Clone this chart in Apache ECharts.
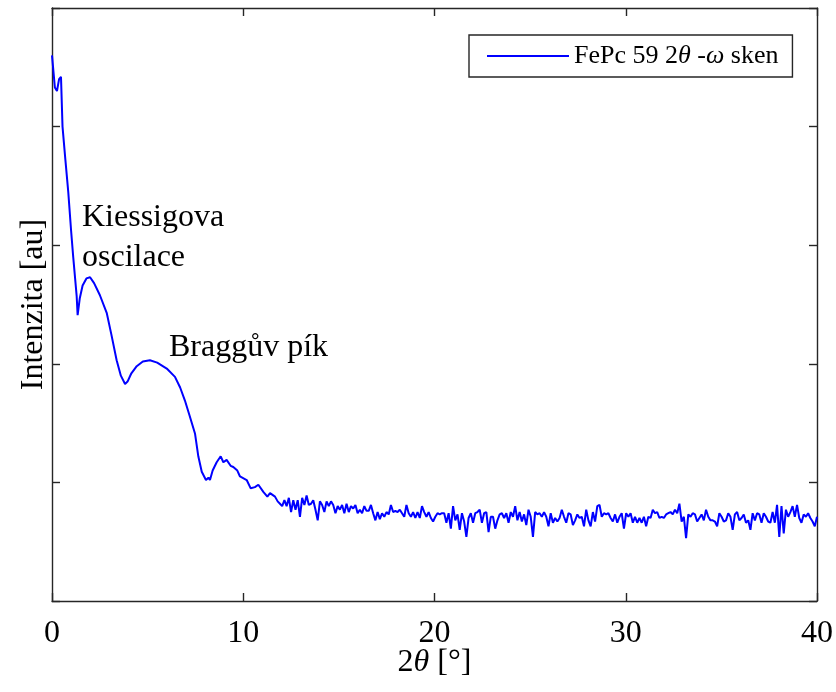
<!DOCTYPE html>
<html>
<head>
<meta charset="utf-8">
<style>html,body{margin:0;padding:0;background:#fff;}#c{width:836px;height:692px;}</style>
<script src="https://cdn.jsdelivr.net/npm/echarts@6/dist/echarts.min.js"></script>
</head>
<body>
<div id="c"></div>
<script>
// X-ray reflectivity / 2theta-omega scan (values in log-like intensity units, axis unlabelled)
const angleEarly = [0, 0.15, 0.26, 0.37, 0.47, 0.55, 0.7, 0.85, 1.0, 1.11, 1.29, 1.34, 1.45, 1.6, 1.8, 1.99, 2.2, 2.5, 2.86, 3.1, 3.38, 3.6, 3.82, 3.95, 4.15, 4.43, 4.75, 5.12, 5.5, 6.0, 6.43, 6.7, 6.95, 7.2, 7.48, 7.65, 7.83, 8.05, 8.18, 8.26, 8.40, 8.61, 8.82, 8.96, 9.13, 9.34, 9.48, 9.69, 9.83, 10.18, 10.39, 10.61, 10.79, 11.05, 11.26, 11.40, 11.66, 11.80];
const intensityEarly = [4.60, 4.33, 4.30, 4.40, 4.42, 4.00, 3.72, 3.45, 3.12, 2.90, 2.57, 2.41, 2.55, 2.66, 2.72, 2.73, 2.68, 2.58, 2.43, 2.25, 2.03, 1.90, 1.83, 1.85, 1.92, 1.98, 2.02, 2.03, 2.01, 1.96, 1.89, 1.80, 1.69, 1.56, 1.41, 1.22, 1.09, 1.02, 1.04, 1.02, 1.10, 1.17, 1.22, 1.17, 1.19, 1.14, 1.13, 1.10, 1.05, 1.02, 0.95, 0.96, 0.98, 0.92, 0.88, 0.91, 0.88, 0.84];
// noisy background, evenly sampled from noiseStart to noiseEnd
const noiseStart = 11.92;
const noiseEnd = 40;
const noiseIntensity = [
  .82,.80,.85,.80,.87,.75,.85,.77,.85,.71,.87,.81,.89,.81,.82,.85,.77,.68,.84,.81,.75,.84,.80,.84,.81,.74,.80,.77,.81,.74,.82,.75,.80,.78,.81,.74,.77,.74,.80,.76,.76,.81,.74,.68,.75,.69,.74,
  .71,.75,.73,.81,.75,.76,.75,.77,.74,.71,.81,.74,.71,.75,.70,.75,.70,.80,.75,.71,.75,.70,.67,.71,.74,.73,.74,.74,.66,.74,.61,.80,.68,.73,.60,.74,.67,.54,.70,.74,.66,.74,.75,.77,.66,.74,.75,.58,.71,
  .71,.61,.68,.73,.74,.70,.74,.66,.75,.71,.80,.68,.75,.67,.73,.64,.77,.71,.54,.75,.73,.74,.71,.75,.71,.63,.74,.66,.70,.67,.70,.77,.71,.66,.74,.73,.64,.68,.73,.70,.71,.63,.77,.68,.63,.75,.67,.80,
  .81,.71,.74,.73,.74,.70,.67,.73,.66,.71,.74,.61,.74,.71,.74,.66,.71,.66,.70,.66,.71,.63,.71,.70,.77,.74,.75,.70,.71,.70,.73,.74,.75,.73,.77,.74,.82,.67,.71,.53,.73,.71,.74,.73,.67,.70,.73,.68,.77,.71,.68,
  .68,.67,.63,.74,.71,.67,.68,.74,.71,.60,.73,.75,.68,.70,.73,.66,.68,.60,.74,.68,.74,.73,.66,.74,.71,.67,.66,.75,.66,.81,.54,.80,.57,.77,.71,.75,.80,.71,.81,.70,.66,.73,.71,.74,.70,.67,.63,.71
];
const xTicks = [0, 10, 20, 30, 40];
const seriesName = 'FePc 59 2θ -ω sken';
const annotations = ['Kiessigova', 'oscilace', 'Braggův pík'];

const data = angleEarly.map((a, i) => [a, intensityEarly[i]]);
const stepN = (noiseEnd - noiseStart) / (noiseIntensity.length - 1);
noiseIntensity.forEach((v, i) => data.push([noiseStart + i * stepN, v]));

const FONT = 'Liberation Serif';
const AX = '#262626';
const FS = 32;
const chart = echarts.init(document.getElementById('c'), null, {renderer: 'canvas'});
const axisCommon = {
  axisLine: {show: true, onZero: false, lineStyle: {color: AX, width: 1.4}},
  axisTick: {show: true, inside: true, length: 8, lineStyle: {color: AX, width: 1.4}},
  splitLine: {show: false}
};
chart.setOption({
  backgroundColor: '#fff',
  animation: false,
  grid: {left: 52, right: 19, top: 8, bottom: 91, containLabel: false},
  legend: {
    show: true, left: 469, top: 35,
    padding: [8, 14, 8, 18],
    itemWidth: 82, itemHeight: 2, icon: 'rect',
    borderColor: AX, borderWidth: 1.4, backgroundColor: '#fff',
    formatter: () => '{n|FePc 59 2}{i|θ}{n| -}{i|ω}{n| sken}',
    textStyle: {
      fontFamily: FONT, fontSize: 26, color: '#000',
      rich: {
        n: {fontFamily: FONT, fontSize: 26, color: '#000'},
        i: {fontFamily: FONT, fontSize: 26, fontStyle: 'italic', color: '#000'}
      }
    },
    data: [seriesName]
  },
  xAxis: [
    Object.assign({
      type: 'value', min: 0, max: 40, interval: 10, position: 'bottom',
      axisLabel: {show: true, margin: 17, fontFamily: FONT, fontSize: FS, color: '#000',
        formatter: v => xTicks.includes(v) ? String(v) : ''},
      name: '{n|2}{i|θ}{n| [°]}', nameLocation: 'middle', nameGap: 46, nameMoveOverlap: false,
      nameTextStyle: {fontFamily: FONT, fontSize: FS, color: '#000',
        rich: {n: {fontFamily: FONT, fontSize: FS, color: '#000'},
               i: {fontFamily: FONT, fontSize: FS, fontStyle: 'italic', color: '#000'}}}
    }, axisCommon),
    Object.assign({
      type: 'value', min: 0, max: 40, interval: 10, position: 'top',
      axisLabel: {show: false}
    }, axisCommon)
  ],
  yAxis: [
    Object.assign({
      type: 'value', min: 0, max: 5, interval: 1, position: 'left',
      axisLabel: {show: false},
      name: 'Intenzita [au]', nameLocation: 'middle', nameGap: 2, nameMoveOverlap: false,
      nameTextStyle: {fontFamily: FONT, fontSize: FS, color: '#000'}
    }, axisCommon),
    Object.assign({
      type: 'value', min: 0, max: 5, interval: 1, position: 'right',
      axisLabel: {show: false}
    }, axisCommon)
  ],
  series: [{
    name: seriesName, type: 'line', data: data,
    xAxisIndex: 0, yAxisIndex: 0,
    symbol: 'none', showSymbol: false, smooth: false,
    lineStyle: {color: '#0000ff', width: 2},
    itemStyle: {color: '#0000ff'},
    z: 3
  }],
  graphic: [
    {type: 'text', x: 82, y: 218, style: {text: annotations[0], font: FS + 'px "Liberation Serif"', fill: '#000', verticalAlign: 'middle'}},
    {type: 'text', x: 82, y: 258, style: {text: annotations[1], font: FS + 'px "Liberation Serif"', fill: '#000', verticalAlign: 'middle'}},
    {type: 'text', x: 169, y: 348, style: {text: annotations[2], font: FS + 'px "Liberation Serif"', fill: '#000', verticalAlign: 'middle'}}
  ]
});
</script>
</body>
</html>
